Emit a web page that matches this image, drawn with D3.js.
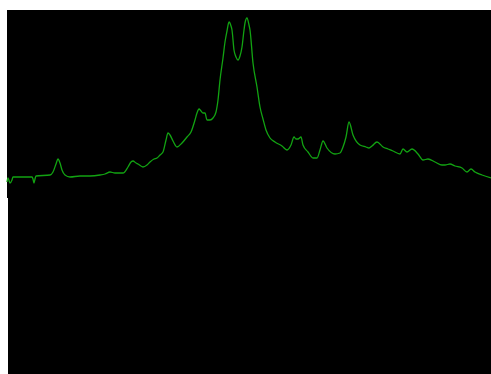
<!DOCTYPE html>
<html>
<head>
<meta charset="utf-8">
<script src="https://cdn.jsdelivr.net/npm/d3@7"></script>
<style>
  body { margin: 0; background: #fff; }
</style>
</head>
<body>
<div id="chart"></div>
<script>
// spectrum trace (channel, intensity)
const channels = [0, 1, 3, 5, 6, 13, 25, 26, 27, 28, 29, 43, 46, 49, 51, 53, 55, 58, 63, 73, 83, 93,
  98, 103, 108, 116, 121, 124, 126, 129, 131, 136, 140, 143, 147, 150, 153, 156, 159, 161, 163, 166,
  170, 175, 180, 184, 188, 190, 192, 194, 196, 198, 200, 203, 206, 209, 211, 213, 216, 218, 220, 222, 224,
  225, 227, 229, 231, 233, 235, 237, 238, 240, 242, 243, 246, 250, 253, 256, 259, 263, 268, 275,
  280, 284, 287, 289, 291, 294, 296, 301, 306, 310, 313, 316, 320, 328, 333, 336, 339, 342, 346, 353,
  359, 362, 365, 370, 376, 381, 386, 393, 396, 400, 405, 411, 416, 421, 428, 435, 438, 443, 448, 455,
  460, 464, 468, 475, 484];
const intensity = [16, 20, 15, 18, 21, 21, 21, 19, 15, 19, 22, 23, 26, 34, 39, 35, 28, 23, 21, 22, 22, 23,
  24, 26, 25, 25, 31, 36, 37, 35, 34, 31, 33, 36, 39, 40, 43, 46, 58, 65, 63, 57,
  51, 55, 61, 66, 78, 85, 89, 87, 85, 85, 78, 78, 80, 86, 98, 118, 140, 156, 167, 176, 172,
  168, 148, 141, 138, 142, 151, 168, 175, 180, 173, 168, 135, 111, 91, 79, 68, 60, 56, 52, 48,
  53, 61, 59, 59, 61, 53, 46, 40, 40, 48, 57, 50, 44, 45, 51, 61, 76, 63, 53, 51,
  50, 52, 56, 51, 49, 47, 44, 49, 46, 49, 44, 38, 39, 36, 33, 33, 34, 32, 30, 26,
  29, 26, 23, 20, 20];

const width = 491,
  height = 374;

const svg = d3
  .select("#chart")
  .append("svg")
  .attr("width", width)
  .attr("height", height);

// black screen (two panels, the lower one is shifted by a pixel)
svg.append("rect")
  .attr("x", 7).attr("y", 10)
  .attr("width", width - 7).attr("height", 188)
  .attr("fill", "#000");
svg.append("rect")
  .attr("x", 8).attr("y", 198)
  .attr("width", width - 8).attr("height", height - 198)
  .attr("fill", "#000");

const scaleX = d3.scaleLinear().domain([0, 484]).range([7, 491]);
const scaleY = d3.scaleLinear().domain([0, 188]).range([198, 10]);

const data = channels.map((c, i) => ({ c, v: intensity[i] }));

const line = d3.line()
  .x((d) => scaleX(d.c))
  .y((d) => scaleY(d.v))
  .curve(d3.curveMonotoneX);

svg.append("path")
  .datum(data)
  .attr("fill", "none")
  .attr("stroke", "#12a312")
  .attr("stroke-width", 1.3)
  .attr("d", line);
</script>
</body>
</html>
